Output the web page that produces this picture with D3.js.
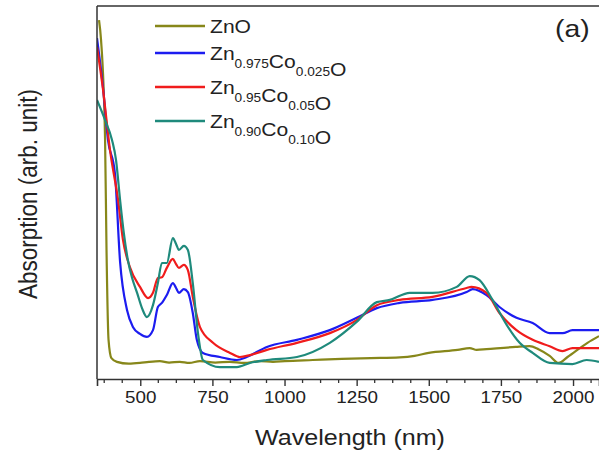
<!DOCTYPE html>
<html>
<head>
<meta charset="utf-8">
<script src="https://cdn.jsdelivr.net/npm/d3@7"></script>
<style>
  html, body { margin: 0; padding: 0; background: #fff; }
  svg { display: block; font-family: "Liberation Sans", Arial, sans-serif; }
</style>
</head>
<body>
<svg id="chart" width="599" height="453"></svg>
<script>
// Absorption spectra, [wavelength nm, absorption arb. unit]
const znO = [[357,0.962],[364,0.909],[378,0.641],[383,0.346],[390,0.105],[400,0.056],[419,0.046],
  [460,0.041],[499,0.043],[530,0.046],[568,0.048],[600,0.044],[637,0.046],[670,0.043],[707,0.048],[760,0.044],[810,0.046],
  [860,0.043],[914,0.048],[960,0.046],[1001,0.048],[1098,0.051],[1198,0.054],[1299,0.056],[1399,0.058],[1451,0.062],
  [1500,0.070],[1600,0.078],[1642,0.083],[1666,0.078],[1700,0.080],[1801,0.086],[1849,0.088],[1880,0.080],
  [1919,0.062],[1950,0.043],[1981,0.059],[2050,0.097],[2090,0.115]];
const co025 = [[350,0.914],[371,0.780],[388,0.641],[412,0.552],[430,0.314],[454,0.185],[475,0.139],[499,0.121],
  [523,0.113],[544,0.131],[561,0.193],[575,0.204],[592,0.225],[613,0.257],[624,0.244],[634,0.231],[651,0.241],
  [665,0.233],[682,0.177],[696,0.105],[717,0.070],[776,0.059],[835,0.051],[869,0.059],[939,0.086],[1043,0.105],
  [1157,0.131],[1250,0.164],[1320,0.190],[1399,0.204],[1513,0.212],[1631,0.233],[1652,0.241],[1700,0.225],
  [1745,0.193],[1804,0.164],[1860,0.150],[1919,0.123],[1964,0.123],[1998,0.131],[2090,0.131]];
const co05 = [[350,0.890],[371,0.775],[395,0.614],[423,0.480],[440,0.373],[464,0.300],[499,0.247],[527,0.217],
  [544,0.231],[561,0.271],[575,0.273],[592,0.298],[613,0.322],[624,0.308],[634,0.298],[651,0.306],[665,0.292],
  [682,0.220],[707,0.139],[752,0.097],[811,0.070],[845,0.059],[880,0.064],[939,0.078],[1043,0.097],[1157,0.123],
  [1250,0.158],[1320,0.198],[1399,0.212],[1513,0.220],[1631,0.244],[1648,0.247],[1700,0.231],[1745,0.177],
  [1804,0.131],[1860,0.105],[1919,0.088],[1964,0.075],[1998,0.083],[2090,0.083]];
const co10 = [[350,0.748],[378,0.694],[402,0.641],[416,0.587],[430,0.480],[443,0.391],[457,0.319],[471,0.273],
  [489,0.231],[506,0.190],[523,0.166],[544,0.198],[561,0.257],[575,0.311],[592,0.311],[613,0.378],[624,0.362],
  [634,0.346],[651,0.357],[665,0.346],[682,0.257],[700,0.123],[717,0.051],[776,0.032],[835,0.032],[880,0.043],
  [939,0.051],[1043,0.059],[1157,0.097],[1250,0.153],[1320,0.206],[1365,0.212],[1434,0.231],[1513,0.231],
  [1597,0.247],[1642,0.276],[1676,0.265],[1721,0.212],[1770,0.145],[1815,0.097],[1860,0.070],[1919,0.043],
  [1998,0.040],[2047,0.051],[2090,0.046]];

const majorTicks = [500, 750, 1000, 1250, 1500, 1750, 2000];
const minorTicks = d3.range(375, 2090, 62.5).filter(v => v % 250 !== 0);

const series = [
  { data: znO,   color: "#87871a", label: [["Zn", ""], ["O", ""]] },
  { data: co025, color: "#1c1cf0", label: [["Zn", "0.975"], ["Co", "0.025"], ["O", ""]] },
  { data: co05,  color: "#f01c1c", label: [["Zn", "0.95"], ["Co", "0.05"], ["O", ""]] },
  { data: co10,  color: "#1f8a7c", label: [["Zn", "0.90"], ["Co", "0.10"], ["O", ""]] }
];

const svg = d3.select("#chart");
const padL = 97, padT = 6, padB = 379, padR = 599;
const stretch = 1.14; // the figure's lettering is set slightly wide

const x = d3.scaleLinear().domain([350, 2090]).range([padL, padR]);
const y = d3.scaleLinear().domain([0, 1]).range([padB, padT]);

svg.append("defs").append("clipPath").attr("id", "plotClip")
  .append("rect").attr("x", padL).attr("y", padT).attr("width", padR - padL).attr("height", padB - padT);

const line = d3.line().x(d => x(d[0])).y(d => y(d[1])).curve(d3.curveMonotoneX);

const plot = svg.append("g").attr("clip-path", "url(#plotClip)");
series.forEach(s => {
  plot.append("path").datum(s.data)
    .attr("fill", "none").attr("stroke", s.color).attr("stroke-width", 2.2)
    .attr("stroke-linejoin", "round").attr("d", line);
});

// frame: left and top edges
svg.append("line").attr("x1", padL).attr("x2", padL).attr("y1", padT).attr("y2", padB)
  .attr("stroke", "#333").attr("stroke-width", 1.5);
svg.append("line").attr("x1", padL).attr("x2", padR + 1).attr("y1", padT).attr("y2", padT)
  .attr("stroke", "#333").attr("stroke-width", 1.5);

// x axis
const xAxis = svg.append("g").attr("transform", `translate(0,${padB})`)
  .call(d3.axisBottom(x).tickValues(majorTicks).tickSize(7).tickPadding(5).tickFormat(d3.format("d")));
xAxis.select(".domain").attr("stroke", "#333").attr("stroke-width", 1.6);
xAxis.selectAll(".tick line").attr("stroke", "#333").attr("stroke-width", 1.4);
xAxis.selectAll(".tick text").attr("fill", "#222").style("font-size", "16.5px")
  .style("font-family", "'Liberation Sans', Arial, sans-serif")
  .attr("transform", `scale(${stretch},1)`);
svg.append("g").attr("transform", `translate(0,${padB})`)
  .selectAll("line").data(minorTicks).join("line")
  .attr("x1", d => x(d)).attr("x2", d => x(d)).attr("y1", 0).attr("y2", 4)
  .attr("stroke", "#333").attr("stroke-width", 1.3);

// axis titles
svg.append("text").attr("transform", `translate(350,445) scale(${stretch},1)`).attr("text-anchor", "middle")
  .attr("fill", "#222").style("font-size", "22px").text("Wavelength (nm)");
svg.append("text").attr("transform", `translate(37,194) rotate(-90) scale(1,${stretch})`).attr("text-anchor", "middle")
  .attr("fill", "#222").style("font-size", "22.5px").text("Absorption (arb. unit)");

// panel tag
svg.append("text").attr("transform", "translate(555,37) scale(1.18,1)").attr("fill", "#222")
  .style("font-size", "24px").text("(a)");

// legend
const legendY = [26, 53, 87, 121];
series.forEach((s, i) => {
  const g = svg.append("g").attr("transform", `translate(0,${legendY[i]})`);
  g.append("line").attr("x1", 155).attr("x2", 205).attr("y1", 0).attr("y2", 0)
    .attr("stroke", s.color).attr("stroke-width", 2.6);
  const t = g.append("text").attr("transform", `translate(210,7) scale(${stretch},1)`)
    .attr("fill", "#222").style("font-size", "18.5px");
  s.label.forEach(([base, sub]) => {
    t.append("tspan").text(base);
    if (sub) {
      t.append("tspan").attr("dy", 8).style("font-size", "12px").text(sub);
      t.append("tspan").attr("dy", -8).text("");
    }
  });
});
</script>
</body>
</html>
